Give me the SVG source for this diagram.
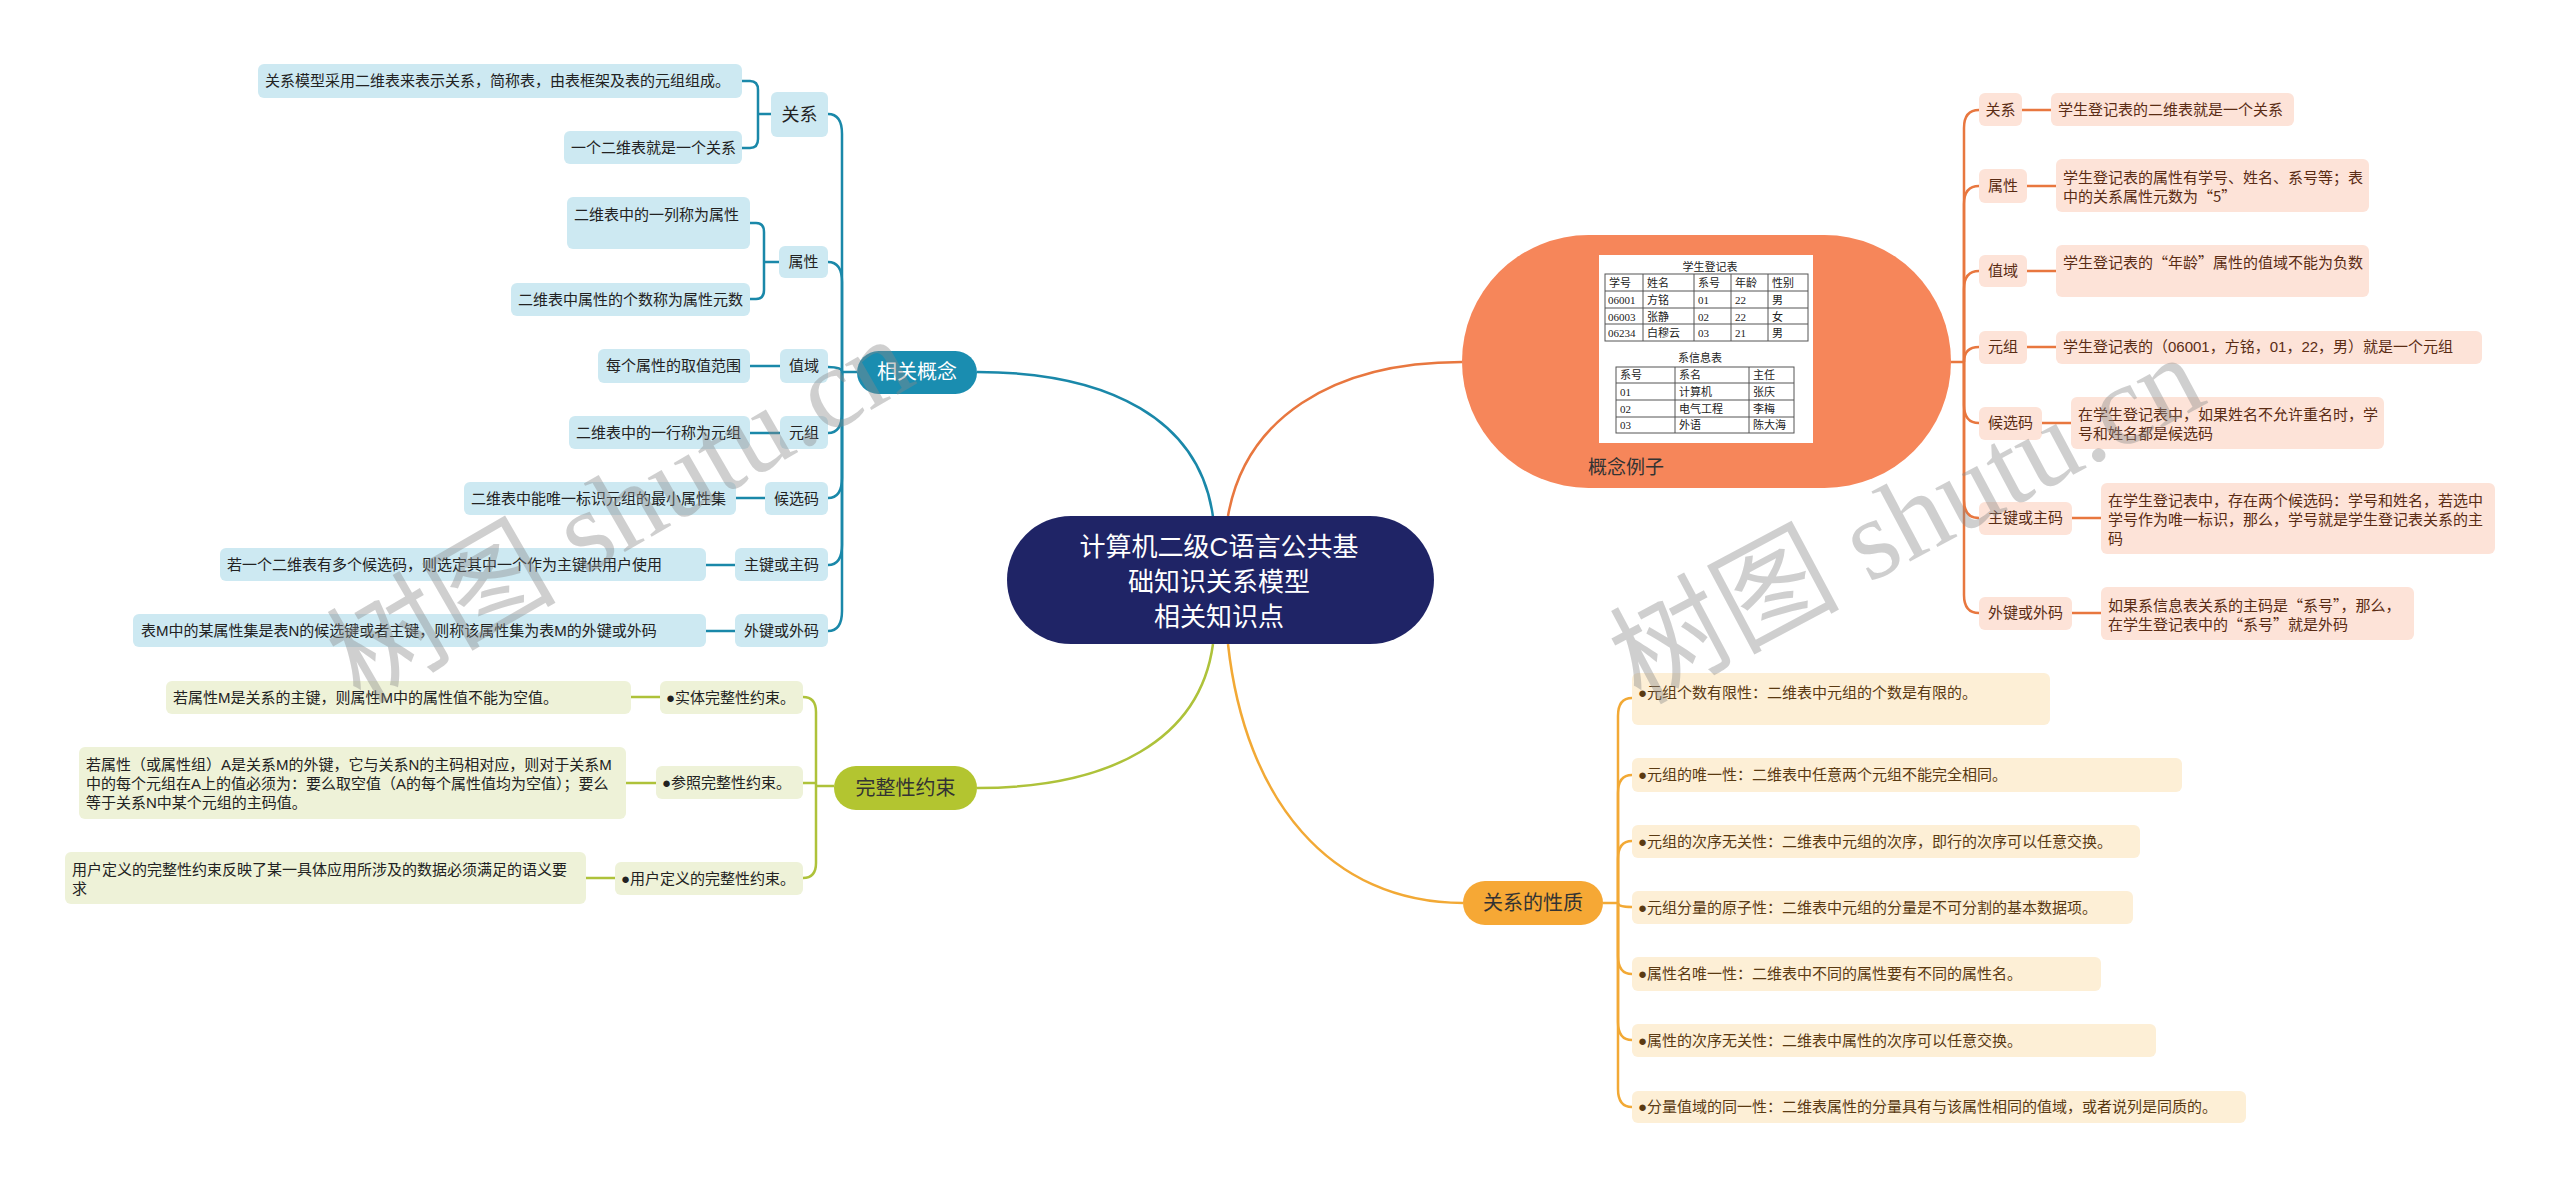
<svg xmlns="http://www.w3.org/2000/svg" width="2560" height="1188" viewBox="0 0 2560 1188">
<style>
text{font-family:"Liberation Sans","Noto Sans CJK SC",sans-serif;}
.cj{font-family:"Noto Sans CJK SC","Liberation Sans",sans-serif;}
.s{font-size:15px;fill:#222;}
.c{text-anchor:middle;}
.bt{fill:#cde9f2;}
.gt{fill:#eef2d8;}
.ot{fill:#fde3d8;}
.at{fill:#fdefd6;}
.ob{fill:#5a2c14;}
.ab{fill:#5a3a12;}
.tl{fill:none;stroke:#1a88a9;stroke-width:2.5;}
.gl{fill:none;stroke:#aec23a;stroke-width:2.5;}
.ol{fill:none;stroke:#e8773f;stroke-width:2.5;}
.al{fill:none;stroke:#f2a935;stroke-width:2.5;}
.tb{fill:none;stroke:#555;stroke-width:1;}
.tt{font-family:"Liberation Serif","Noto Sans CJK SC",serif;font-size:11px;fill:#222;}
.wm{font-family:"Liberation Serif","Noto Sans CJK SC",serif;font-size:115px;fill:#8a8a8a;opacity:0.4;}
</style>

<g id="connectors">
  <path class="tl" d="M1213,517 C1200,420 1110,372 977,372"/>
  <path class="gl" d="M1213,644 C1200,740 1110,788 977,788"/>
  <path class="ol" d="M1228,516 C1245,420 1330,362 1462,362"/>
  <path class="al" d="M1228,644 C1245,800 1330,903 1463,903"/>
  <path class="tl" d="M857,372 H842"/>
  <path class="tl" d="M842,372 V134 Q842,114 828,114"/>
  <path class="tl" d="M842,372 V282 Q842,262 828,262"/>
  <path class="tl" d="M842,372 Q842,367 828,367"/>
  <path class="tl" d="M842,372 V413 Q842,433 828,433"/>
  <path class="tl" d="M842,372 V478 Q842,498 828,498"/>
  <path class="tl" d="M842,372 V545 Q842,565 828,565"/>
  <path class="tl" d="M842,372 V611 Q842,631 828,631"/>
  <path class="tl" d="M742,81 H750 Q758,81 758,90 V139 Q758,148 750,148 H742 M758,114 H771"/>
  <path class="tl" d="M750,223 H756 Q764,223 764,232 V290 Q764,299 756,299 H750 M764,262 H779"/>
  <path class="tl" d="M750,366 H780"/>
  <path class="tl" d="M750,433 H780"/>
  <path class="tl" d="M736,498 H765"/>
  <path class="tl" d="M706,565 H735"/>
  <path class="tl" d="M706,631 H735"/>
  <path class="gl" d="M834,786 H816"/>
  <path class="gl" d="M803,697 Q816,697 816,712 V863 Q816,878 803,878 M803,783 H816"/>
  <path class="gl" d="M631,697 H660"/>
  <path class="gl" d="M626,783 H656"/>
  <path class="gl" d="M586,878 H615"/>
  <path class="ol" d="M1951,362 H1964"/>
  <path class="ol" d="M1964,362 V128 Q1964,110 1979,110"/>
  <path class="ol" d="M1964,362 V204 Q1964,186 1979,186"/>
  <path class="ol" d="M1964,362 V289 Q1964,271 1979,271"/>
  <path class="ol" d="M1964,362 Q1964,347 1979,347"/>
  <path class="ol" d="M1964,362 V405 Q1964,423 1979,423"/>
  <path class="ol" d="M1964,362 V500 Q1964,518 1979,518"/>
  <path class="ol" d="M1964,362 V595 Q1964,613 1979,613"/>
  <path class="ol" d="M2022,110 H2051"/>
  <path class="ol" d="M2027,186 H2056"/>
  <path class="ol" d="M2027,271 H2056"/>
  <path class="ol" d="M2027,347 H2056"/>
  <path class="ol" d="M2042,423 H2071"/>
  <path class="ol" d="M2072,518 H2101"/>
  <path class="ol" d="M2072,613 H2101"/>
  <path class="al" d="M1603,903 H1618"/>
  <path class="al" d="M1618,903 V716 Q1618,698 1632,698"/>
  <path class="al" d="M1618,903 V793 Q1618,775 1632,775"/>
  <path class="al" d="M1618,903 V859 Q1618,841 1632,841"/>
  <path class="al" d="M1618,903 Q1618,907 1632,907"/>
  <path class="al" d="M1618,903 V956 Q1618,974 1632,974"/>
  <path class="al" d="M1618,903 V1022 Q1618,1040 1632,1040"/>
  <path class="al" d="M1618,903 V1089 Q1618,1107 1632,1107"/>
</g>

<g id="center">
  <rect x="1007" y="516" width="427" height="128" rx="64" fill="#1f2466"/>
  <text class="c" x="1219" y="556" font-size="26" fill="#fff">计算机二级C语言公共基</text>
  <text class="c" x="1219" y="591" font-size="26" fill="#fff">础知识关系模型</text>
  <text class="c" x="1219" y="626" font-size="26" fill="#fff">相关知识点</text>
</g>

<g id="b-concept">
  <rect x="857" y="351" width="120" height="43" rx="21.5" fill="#1a8db0"/>
  <text class="c" x="917" y="379" font-size="20" fill="#fff">相关概念</text>
</g>
<g id="t-rel">
  <rect x="771" y="92" width="57" height="45" rx="6" class="bt"/>
  <text class="c" x="799.5" y="121" font-size="18" fill="#222">关系</text>
</g>
<g id="t-rel-1">
  <rect x="258" y="64" width="484" height="34" rx="6" class="bt"/>
  <text class="s" x="265" y="86">关系模型采用二维表来表示关系，简称表，由表框架及表的元组组成。</text>
</g>
<g id="t-rel-2">
  <rect x="564" y="131" width="178" height="33" rx="6" class="bt"/>
  <text class="s" x="571" y="153">一个二维表就是一个关系</text>
</g>
<g id="t-attr">
  <rect x="779" y="246" width="49" height="32" rx="6" class="bt"/>
  <text class="s c" x="803.5" y="267">属性</text>
</g>
<g id="t-attr-1">
  <rect x="567" y="197" width="183" height="52" rx="6" class="bt"/>
  <text class="s" x="574" y="220">二维表中的一列称为属性</text>
</g>
<g id="t-attr-2">
  <rect x="511" y="283" width="239" height="33" rx="6" class="bt"/>
  <text class="s" x="518" y="305">二维表中属性的个数称为属性元数</text>
</g>
<g id="t-dom">
  <rect x="780" y="349" width="48" height="34" rx="6" class="bt"/>
  <text class="s c" x="804" y="371">值域</text>
</g>
<g id="t-dom-1">
  <rect x="598" y="349" width="152" height="34" rx="6" class="bt"/>
  <text class="s" x="606" y="371">每个属性的取值范围</text>
</g>
<g id="t-tup">
  <rect x="780" y="416" width="48" height="33" rx="6" class="bt"/>
  <text class="s c" x="804" y="438">元组</text>
</g>
<g id="t-tup-1">
  <rect x="569" y="416" width="181" height="33" rx="6" class="bt"/>
  <text class="s" x="576" y="438">二维表中的一行称为元组</text>
</g>
<g id="t-cand">
  <rect x="765" y="482" width="63" height="33" rx="6" class="bt"/>
  <text class="s c" x="796.5" y="504">候选码</text>
</g>
<g id="t-cand-1">
  <rect x="464" y="482" width="272" height="33" rx="6" class="bt"/>
  <text class="s" x="471" y="504">二维表中能唯一标识元组的最小属性集</text>
</g>
<g id="t-pk">
  <rect x="735" y="548" width="93" height="33" rx="6" class="bt"/>
  <text class="s c" x="781.5" y="570">主键或主码</text>
</g>
<g id="t-pk-1">
  <rect x="220" y="548" width="486" height="33" rx="6" class="bt"/>
  <text class="s" x="227" y="570">若一个二维表有多个候选码，则选定其中一个作为主键供用户使用</text>
</g>
<g id="t-fk">
  <rect x="735" y="614" width="93" height="33" rx="6" class="bt"/>
  <text class="s c" x="781.5" y="636">外键或外码</text>
</g>
<g id="t-fk-1">
  <rect x="133" y="614" width="573" height="33" rx="6" class="bt"/>
  <text class="s" x="141" y="636">表M中的某属性集是表N的候选键或者主键，则称该属性集为表M的外键或外码</text>
</g>

<g id="b-integrity">
  <rect x="834" y="766" width="143" height="44" rx="22" fill="#b3c530"/>
  <text class="c" x="905.5" y="795" font-size="20" fill="#333">完整性约束</text>
</g>
<g id="g-entity">
  <rect x="660" y="681" width="143" height="33" rx="6" class="gt"/>
  <text class="s" x="666" y="703">●实体完整性约束。</text>
</g>
<g id="g-entity-1">
  <rect x="166" y="681" width="465" height="33" rx="6" class="gt"/>
  <text class="s" x="173" y="703">若属性M是关系的主键，则属性M中的属性值不能为空值。</text>
</g>
<g id="g-ref">
  <rect x="656" y="766" width="147" height="33" rx="6" class="gt"/>
  <text class="s" x="662" y="788">●参照完整性约束。</text>
</g>
<g id="g-ref-1">
  <rect x="79" y="747" width="547" height="72" rx="6" class="gt"/>
  <text class="s" x="86" y="770">若属性（或属性组）A是关系M的外键，它与关系N的主码相对应，则对于关系M</text>
  <text class="s" x="86" y="789">中的每个元组在A上的值必须为：要么取空值（A的每个属性值均为空值）；要么</text>
  <text class="s" x="86" y="808">等于关系N中某个元组的主码值。</text>
</g>
<g id="g-user">
  <rect x="615" y="862" width="188" height="33" rx="6" class="gt"/>
  <text class="s" x="621" y="884">●用户定义的完整性约束。</text>
</g>
<g id="g-user-1">
  <rect x="65" y="852" width="521" height="52" rx="6" class="gt"/>
  <text class="s" x="72" y="875">用户定义的完整性约束反映了某一具体应用所涉及的数据必须满足的语义要</text>
  <text class="s" x="72" y="894">求</text>
</g>

<g id="b-example">
  <rect x="1462" y="235" width="489" height="253" rx="126.5" fill="#f6865a"/>
  <rect x="1599" y="255" width="214" height="188" fill="#fff"/>
  <text class="tt c" x="1710" y="271">学生登记表</text>
  <rect class="tb" x="1605" y="274" width="203" height="67"/>
  <path class="tb" d="M1605,291 H1808 M1605,308 H1808 M1605,324 H1808 M1643,274 V341 M1694,274 V341 M1731,274 V341 M1768,274 V341"/>
  <text class="tt" x="1609" y="287">学号</text><text class="tt" x="1647" y="287">姓名</text><text class="tt" x="1698" y="287">系号</text><text class="tt" x="1735" y="287">年龄</text><text class="tt" x="1772" y="287">性别</text>
  <text class="tt" x="1608" y="304">06001</text><text class="tt" x="1647" y="304">方铭</text><text class="tt" x="1698" y="304">01</text><text class="tt" x="1735" y="304">22</text><text class="tt" x="1772" y="304">男</text>
  <text class="tt" x="1608" y="321">06003</text><text class="tt" x="1647" y="321">张静</text><text class="tt" x="1698" y="321">02</text><text class="tt" x="1735" y="321">22</text><text class="tt" x="1772" y="321">女</text>
  <text class="tt" x="1608" y="337">06234</text><text class="tt" x="1647" y="337">白穆云</text><text class="tt" x="1698" y="337">03</text><text class="tt" x="1735" y="337">21</text><text class="tt" x="1772" y="337">男</text>
  <text class="tt c" x="1700" y="362">系信息表</text>
  <rect class="tb" x="1616" y="367" width="178" height="66"/>
  <path class="tb" d="M1616,383 H1794 M1616,400 H1794 M1616,417 H1794 M1675,367 V433 M1749,367 V433"/>
  <text class="tt" x="1620" y="379">系号</text><text class="tt" x="1679" y="379">系名</text><text class="tt" x="1753" y="379">主任</text>
  <text class="tt" x="1620" y="396">01</text><text class="tt" x="1679" y="396">计算机</text><text class="tt" x="1753" y="396">张庆</text>
  <text class="tt" x="1620" y="413">02</text><text class="tt" x="1679" y="413">电气工程</text><text class="tt" x="1753" y="413">李梅</text>
  <text class="tt" x="1620" y="429">03</text><text class="tt" x="1679" y="429">外语</text><text class="tt" x="1753" y="429">陈大海</text>
  <text x="1588" y="474" font-size="19" fill="#333">概念例子</text>
</g>
<g id="o-rel">
  <rect x="1979" y="93" width="43" height="33" rx="6" class="ot"/>
  <text class="s c ob" x="2000.5" y="115">关系</text>
</g>
<g id="o-rel-1">
  <rect x="2051" y="93" width="243" height="33" rx="6" class="ot"/>
  <text class="s ob" x="2058" y="115">学生登记表的二维表就是一个关系</text>
</g>
<g id="o-attr">
  <rect x="1979" y="169" width="48" height="34" rx="6" class="ot"/>
  <text class="s c ob" x="2003" y="191">属性</text>
</g>
<g id="o-attr-1">
  <rect x="2056" y="159" width="313" height="53" rx="6" class="ot"/>
  <text class="s ob" x="2063" y="183">学生登记表的属性有学号、姓名、系号等；表</text>
  <text class="s ob cj" x="2063" y="202">中的关系属性元数为“5”</text>
</g>
<g id="o-dom">
  <rect x="1979" y="255" width="48" height="32" rx="6" class="ot"/>
  <text class="s c ob" x="2003" y="276">值域</text>
</g>
<g id="o-dom-1">
  <rect x="2056" y="245" width="313" height="52" rx="6" class="ot"/>
  <text class="s ob cj" x="2063" y="268">学生登记表的“年龄”属性的值域不能为负数</text>
</g>
<g id="o-tup">
  <rect x="1979" y="331" width="48" height="33" rx="6" class="ot"/>
  <text class="s c ob" x="2003" y="352">元组</text>
</g>
<g id="o-tup-1">
  <rect x="2056" y="331" width="426" height="33" rx="6" class="ot"/>
  <text class="s ob" x="2063" y="352">学生登记表的（06001，方铭，01，22，男）就是一个元组</text>
</g>
<g id="o-cand">
  <rect x="1979" y="407" width="63" height="33" rx="6" class="ot"/>
  <text class="s c ob" x="2010.5" y="428">候选码</text>
</g>
<g id="o-cand-1">
  <rect x="2071" y="397" width="313" height="52" rx="6" class="ot"/>
  <text class="s ob" x="2078" y="420">在学生登记表中，如果姓名不允许重名时，学</text>
  <text class="s ob" x="2078" y="439">号和姓名都是候选码</text>
</g>
<g id="o-pk">
  <rect x="1979" y="502" width="93" height="33" rx="6" class="ot"/>
  <text class="s c ob" x="2025.5" y="523">主键或主码</text>
</g>
<g id="o-pk-1">
  <rect x="2101" y="483" width="394" height="71" rx="6" class="ot"/>
  <text class="s ob" x="2108" y="506">在学生登记表中，存在两个候选码：学号和姓名，若选中</text>
  <text class="s ob" x="2108" y="525">学号作为唯一标识，那么，学号就是学生登记表关系的主</text>
  <text class="s ob" x="2108" y="544">码</text>
</g>
<g id="o-fk">
  <rect x="1979" y="597" width="93" height="33" rx="6" class="ot"/>
  <text class="s c ob" x="2025.5" y="618">外键或外码</text>
</g>
<g id="o-fk-1">
  <rect x="2101" y="587" width="313" height="53" rx="6" class="ot"/>
  <text class="s ob cj" x="2108" y="611">如果系信息表关系的主码是“系号”，那么，</text>
  <text class="s ob cj" x="2108" y="630">在学生登记表中的“系号”就是外码</text>
</g>

<g id="b-props">
  <rect x="1463" y="881" width="140" height="44" rx="22" fill="#f6a835"/>
  <text class="c" x="1533" y="910" font-size="20" fill="#333">关系的性质</text>
</g>
<g id="p1">
  <rect x="1632" y="673" width="418" height="52" rx="6" class="at"/>
  <text class="s ab" x="1638" y="698">●元组个数有限性：二维表中元组的个数是有限的。</text>
</g>
<g id="p2">
  <rect x="1632" y="758" width="550" height="34" rx="6" class="at"/>
  <text class="s ab" x="1638" y="780">●元组的唯一性：二维表中任意两个元组不能完全相同。</text>
</g>
<g id="p3">
  <rect x="1632" y="825" width="508" height="33" rx="6" class="at"/>
  <text class="s ab" x="1638" y="847">●元组的次序无关性：二维表中元组的次序，即行的次序可以任意交换。</text>
</g>
<g id="p4">
  <rect x="1632" y="891" width="501" height="33" rx="6" class="at"/>
  <text class="s ab" x="1638" y="913">●元组分量的原子性：二维表中元组的分量是不可分割的基本数据项。</text>
</g>
<g id="p5">
  <rect x="1632" y="957" width="469" height="34" rx="6" class="at"/>
  <text class="s ab" x="1638" y="979">●属性名唯一性：二维表中不同的属性要有不同的属性名。</text>
</g>
<g id="p6">
  <rect x="1632" y="1024" width="524" height="33" rx="6" class="at"/>
  <text class="s ab" x="1638" y="1046">●属性的次序无关性：二维表中属性的次序可以任意交换。</text>
</g>
<g id="p7">
  <rect x="1632" y="1091" width="614" height="32" rx="6" class="at"/>
  <text class="s ab" x="1638" y="1112">●分量值域的同一性：二维表属性的分量具有与该属性相同的值域，或者说列是同质的。</text>
</g>

<g id="watermark">
  <text class="wm" transform="translate(360,705) rotate(-30)">树图 shutu.cn</text>
  <text class="wm" transform="translate(1640,705) rotate(-28)">树图 shutu.cn</text>
</g>
</svg>
